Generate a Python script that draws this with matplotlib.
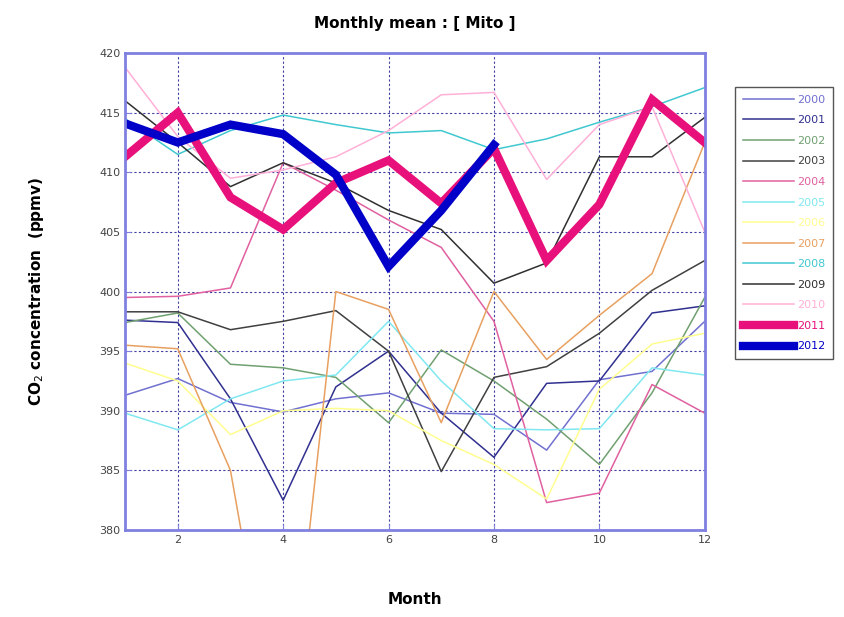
import numpy as np
import matplotlib
matplotlib.use("Agg")
import matplotlib.pyplot as plt

months = np.arange(1, 13)

# monthly mean CO2 (ppmv) per year
co2_2000 = [391.3, 392.7, 390.7, 389.9, 391.0, 391.5, 389.8, 389.7, 386.7, 392.6, 393.3, 397.5]
co2_2001 = [397.6, 397.4, 391.0, 382.5, 392.0, 395.0, 389.8, 386.1, 392.3, 392.5, 398.2, 398.8]
co2_2002 = [397.4, 398.2, 393.9, 393.6, 392.8, 389.0, 395.1, 392.5, 389.3, 385.5, 391.5, 399.5]
co2_2003 = [398.3, 398.3, 396.8, 397.5, 398.4, 395.0, 384.9, 392.8, 393.7, 396.5, 400.1, 402.6]
co2_2004 = [399.5, 399.6, 400.3, 410.8, 408.5, 406.0, 403.7, 397.5, 382.3, 383.1, 392.2, 389.8]
co2_2005 = [389.8, 388.4, 391.0, 392.5, 393.0, 397.5, 392.5, 388.5, 388.4, 388.5, 393.6, 393.0]
co2_2006 = [394.0, 392.5, 388.0, 390.0, 390.2, 390.0, 387.5, 385.5, 382.6, 391.8, 395.6, 396.5]
co2_2007 = [395.5, 395.2, 385.0, 360.0, 400.0, 398.5, 389.0, 400.0, 394.3, 398.0, 401.5, 412.5]
co2_2008 = [414.5, 411.5, 413.5, 414.8, 414.0, 413.3, 413.5, 411.9, 412.8, 414.2, 415.5, 417.1]
co2_2009 = [416.0, 412.5, 408.8, 410.8, 409.1, 406.8, 405.2, 400.7, 402.4, 411.3, 411.3, 414.6]
co2_2010 = [418.8, 413.0, 409.5, 410.2, 411.3, 413.5, 416.5, 416.7, 409.4, 414.0, 415.5, 405.0]
co2_2011 = [411.3, 415.0, 407.9, 405.2, 409.1, 411.0, 407.4, 412.0, 402.6, 407.3, 416.1, 412.5]
co2_2012 = [414.1, 412.5, 414.0, 413.2, 409.8, 402.1, 406.8, 412.3]

years = ["2000", "2001", "2002", "2003", "2004", "2005", "2006",
         "2007", "2008", "2009", "2010", "2011", "2012"]
series = [co2_2000, co2_2001, co2_2002, co2_2003, co2_2004, co2_2005, co2_2006,
          co2_2007, co2_2008, co2_2009, co2_2010, co2_2011, co2_2012]
colors = ["#7070d0", "#303090", "#70a070", "#404040", "#e060a0", "#80e8f0", "#ffff90",
          "#e8a060", "#40c8d0", "#303030", "#ffb0d8", "#e8107a", "#0000c8"]
widths = [1.1] * 11 + [6, 6]

fig = plt.figure(figsize=(8.45, 6.17), dpi=100)
ax = fig.add_axes([0.148, 0.141, 0.686, 0.773])

for yr, vals, c, w in zip(years, series, colors, widths):
    ax.plot(months[:len(vals)], vals, color=c, lw=w, label=yr,
            solid_joinstyle="miter" if w > 2 else "round")

ax.set_xlim(1, 12)
ax.set_ylim(380, 420)
ax.set_xticks(range(2, 13, 2))
ax.set_yticks(range(380, 421, 5))
ax.grid(True, color="#4040a0", ls=(0, (2, 2)), lw=0.8)
for sp in ax.spines.values():
    sp.set_color("#8080e0")
    sp.set_linewidth(2)
ax.tick_params(colors="#8080e0", labelcolor="#444444", labelsize=8, length=4, direction="in")

ax.set_title("Monthly mean : [ Mito ]", fontsize=11, fontweight="bold", pad=18)
ax.set_xlabel("Month", fontsize=11, fontweight="bold", labelpad=34)
ax.set_ylabel("CO$_2$ concentration  (ppmv)", fontsize=11, fontweight="bold", labelpad=38)

leg = fig.legend(loc="upper left", bbox_to_anchor=(0.870, 0.859), borderaxespad=0,
                 fontsize=8, handlelength=4.6, handletextpad=0.3, labelspacing=0.95,
                 fancybox=False, edgecolor="#555555", framealpha=1, borderpad=0.7)
for txt, c in zip(leg.get_texts(), colors):
    txt.set_color(c)

fig.savefig("out.png", dpi=100)
